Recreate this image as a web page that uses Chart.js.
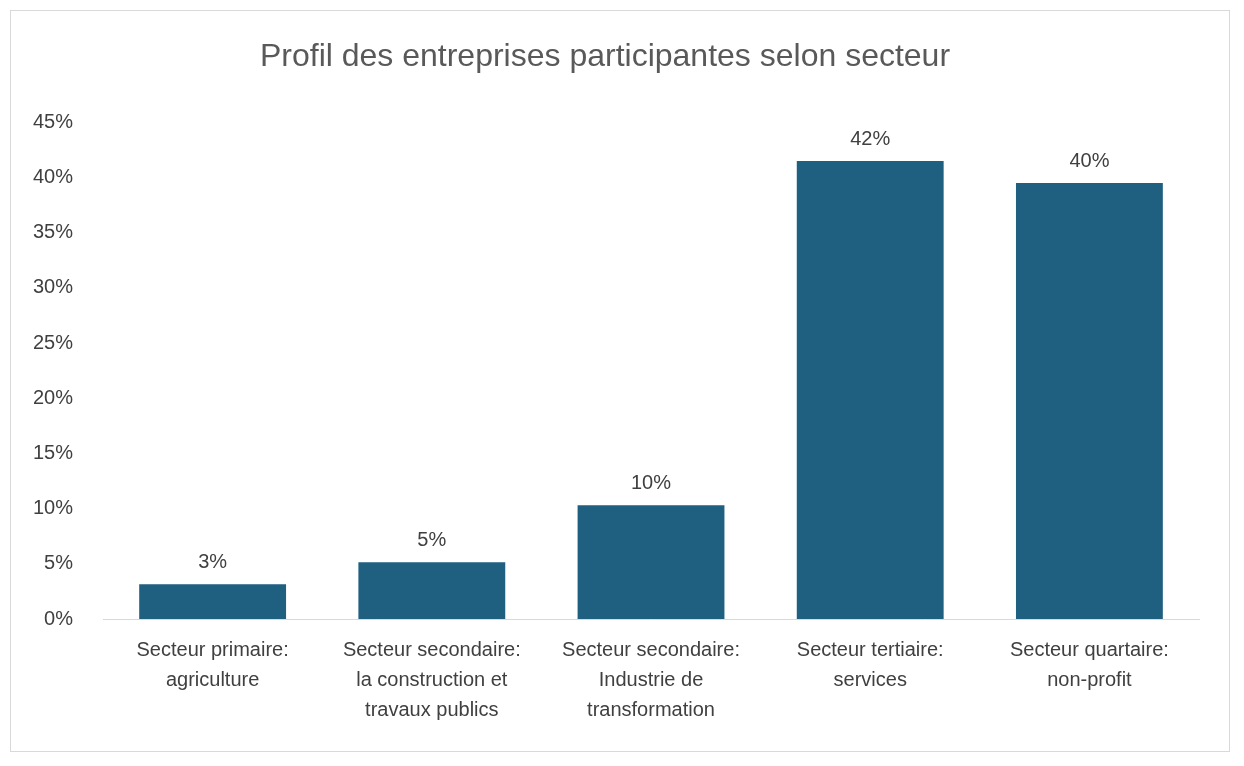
<!DOCTYPE html>
<html>
<head>
<meta charset="utf-8">
<script src="https://cdn.jsdelivr.net/npm/chart.js@4"></script>
<style>
body{margin:0;background:#fff;}
#box{position:absolute;left:10px;top:10px;width:1220px;height:742px;border:1px solid #d9d9d9;box-sizing:border-box;}
</style>
</head>
<body>
<div id="box"><canvas id="c"></canvas></div>
<script>
const categories = [
  ["Secteur primaire:", "agriculture"],
  ["Secteur secondaire:", "la construction et", "travaux publics"],
  ["Secteur secondaire:", "Industrie de", "transformation"],
  ["Secteur tertiaire:", "services"],
  ["Secteur quartaire:", "non-profit"]
]
const values = [3.15, 5.15, 10.3, 41.5, 39.5]
const valueLabels = ["3%", "5%", "10%", "42%", "40%"]

const labelPlugin = {
  id: "barLabels",
  afterDatasetsDraw(chart){
    const ctx = chart.ctx
    ctx.save()
    ctx.font = "20px 'Liberation Sans', Arial, sans-serif"
    ctx.fillStyle = "#404040"
    ctx.textAlign = "center"
    ctx.textBaseline = "bottom"
    chart.getDatasetMeta(0).data.forEach((bar, i) => {
      ctx.fillText(valueLabels[i], bar.x, bar.y - 12)
    })
    ctx.restore()
  }
}

new Chart(document.getElementById("c"), {
  type: "bar",
  data: {
    labels: categories,
    datasets: [{
      data: values,
      backgroundColor: "#1f5f80",
      categoryPercentage: 0.67,
      barPercentage: 1
    }]
  },
  options: {
    responsive: true,
    maintainAspectRatio: false,
    animation: false,
    layout: {padding: {left: 0, right: 30, top: 0, bottom: 18}},
    plugins: {
      legend: {display: false},
      tooltip: {enabled: false},
      title: {
        display: true,
        text: "Profil des entreprises participantes selon secteur",
        color: "#595959",
        font: {size: 32, family: "'Liberation Sans', Arial, sans-serif", weight: "normal"},
        padding: {top: 27, bottom: 46}
      }
    },
    scales: {
      x: {
        grid: {display: false},
        border: {color: "#d9d9d9"},
        ticks: {color: "#404040", font: {size: 20, family: "'Liberation Sans', Arial, sans-serif", lineHeight: 1.5}, maxRotation: 0, padding: 8}
      },
      y: {
        min: 0, max: 45,
        grid: {display: false},
        border: {display: false},
        ticks: {stepSize: 5, color: "#404040", padding: 22, font: {size: 20, family: "'Liberation Sans', Arial, sans-serif"}, callback: v => v + "%"}
      }
    }
  },
  plugins: [labelPlugin]
})
</script>
</body>
</html>
